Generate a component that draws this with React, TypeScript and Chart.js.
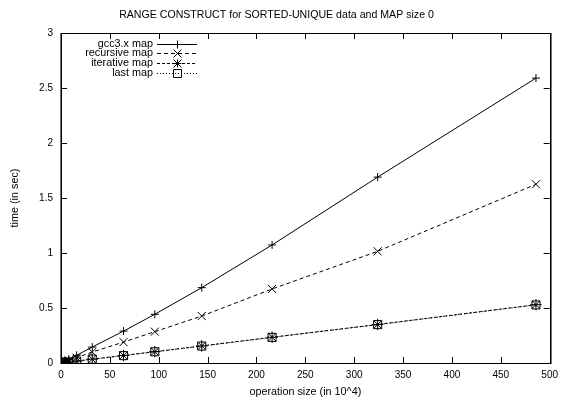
import React, { useEffect, useRef } from 'react';
import { Chart, registerables } from 'chart.js';

Chart.register(...registerables);

// Operation sizes (in 10^4) and measured construction times (in sec)
const operationSizes = [1, 2, 4, 8, 16, 32, 64, 96, 144, 216, 324, 486];
const gccTimes = [0.004, 0.008, 0.017, 0.035, 0.07, 0.145, 0.29, 0.443, 0.685, 1.073, 1.69, 2.59];
const recursiveTimes = [0.003, 0.006, 0.012, 0.024, 0.048, 0.1, 0.19, 0.285, 0.427, 0.673, 1.015, 1.625];
const iterativeTimes = [0.001, 0.002, 0.0045, 0.009, 0.017, 0.035, 0.068, 0.103, 0.155, 0.234, 0.35, 0.53];
const lastTimes = [0.001, 0.002, 0.0045, 0.009, 0.017, 0.035, 0.067, 0.102, 0.154, 0.233, 0.349, 0.528];

const seriesLabels = ['gcc3.x map', 'recursive map', 'iterative map', 'last map'];
const seriesValues = [gccTimes, recursiveTimes, iterativeTimes, lastTimes];
const seriesDashes: number[][] = [[], [4, 3], [3, 2], [1, 2]];
const seriesMarkers = ['cross', 'crossRot', 'star', 'rect'];

const xTickValues = [0, 50, 100, 150, 200, 250, 300, 350, 400, 450, 500];
const yTickValues = [0, 0.5, 1, 1.5, 2, 2.5, 3];

const FONT = '"Liberation Sans", Arial, Helvetica, sans-serif';
const INK = '#000000';
const TEXT_SIZE = 10.8;

function drawMarker(ctx: CanvasRenderingContext2D, style: string, x: number, y: number) {
  ctx.beginPath();
  if (style === 'cross' || style === 'star') {
    ctx.moveTo(x - 4, y); ctx.lineTo(x + 4, y);
    ctx.moveTo(x, y - 4); ctx.lineTo(x, y + 4);
  }
  if (style === 'crossRot' || style === 'star') {
    ctx.moveTo(x - 4, y - 4); ctx.lineTo(x + 4, y + 4);
    ctx.moveTo(x + 4, y - 4); ctx.lineTo(x - 4, y + 4);
  }
  if (style === 'rect') {
    ctx.rect(x - 4, y - 4, 8, 8);
  }
  ctx.stroke();
}

// Frame with inward ticks on all four sides, plus an in-plot key
const framePlugin = {
  id: 'frameAndKey',
  afterDraw(chart: any) {
    const { ctx, chartArea } = chart;
    const { left, right, top, bottom } = chartArea;
    const xs = chart.scales.x;
    const ys = chart.scales.y;
    ctx.save();
    ctx.strokeStyle = INK;
    ctx.lineWidth = 1;
    ctx.setLineDash([]);
    ctx.strokeRect(Math.round(left) + 0.5, Math.round(top) + 0.5, Math.round(right - left), Math.round(bottom - top));
    ctx.strokeStyle = 'rgba(0,0,0,0.55)';
    ctx.beginPath();
    ctx.moveTo(Math.round(left) - 0.5, top); ctx.lineTo(Math.round(left) - 0.5, bottom + 1);
    ctx.moveTo(Math.round(right) + 1.5, top); ctx.lineTo(Math.round(right) + 1.5, bottom + 1);
    ctx.stroke();
    ctx.strokeStyle = INK;
    const tl = 6;
    ctx.beginPath();
    xTickValues.forEach((v) => {
      const px = Math.round(xs.getPixelForValue(v)) + 0.5;
      ctx.moveTo(px, bottom); ctx.lineTo(px, bottom - tl);
      ctx.moveTo(px, top); ctx.lineTo(px, top + tl);
    });
    yTickValues.forEach((v) => {
      const py = Math.round(ys.getPixelForValue(v)) + 0.5;
      ctx.moveTo(left, py); ctx.lineTo(left + tl, py);
      ctx.moveTo(right, py); ctx.lineTo(right - tl, py);
    });
    ctx.stroke();

    // key
    ctx.font = `${TEXT_SIZE}px ${FONT}`;
    ctx.fillStyle = INK;
    ctx.textAlign = 'right';
    ctx.textBaseline = 'middle';
    seriesLabels.forEach((label, i) => {
      const cy = Math.round(top + 10.5 + i * 9.8) + 0.5;
      ctx.fillText(label, left + 92, cy);
      ctx.setLineDash(seriesDashes[i]);
      ctx.beginPath();
      ctx.moveTo(left + 96, cy);
      ctx.lineTo(left + 136, cy);
      ctx.stroke();
      ctx.setLineDash([]);
      drawMarker(ctx, seriesMarkers[i], left + 116.5, cy);
    });
    ctx.restore();
  },
};

export default function App() {
  const canvasRef = useRef<HTMLCanvasElement | null>(null);

  useEffect(() => {
    const canvas = canvasRef.current;
    if (!canvas) return;
    const datasets = seriesLabels.map((label, i) => ({
      label,
      data: operationSizes.map((x, k) => ({ x, y: seriesValues[i][k] })),
      borderColor: INK,
      backgroundColor: 'rgba(0,0,0,0)',
      borderWidth: 1,
      borderDash: seriesDashes[i],
      pointStyle: seriesMarkers[i] as any,
      pointRadius: seriesMarkers[i] === 'cross' ? 4 : 5.7,
      pointBorderColor: INK,
      pointBackgroundColor: 'rgba(0,0,0,0)',
      pointBorderWidth: 1,
      tension: 0,
      fill: false,
    }));

    const chart = new Chart(canvas, {
      type: 'line',
      data: { datasets },
      options: {
        animation: false,
        responsive: false,
        devicePixelRatio: 1,
        layout: { padding: { left: 0, right: 11, top: 0, bottom: 0 } },
        plugins: {
          legend: { display: false },
          tooltip: { enabled: false },
          title: {
            display: true,
            text: 'RANGE CONSTRUCT for SORTED-UNIQUE data and MAP size 0',
            color: INK,
            font: { family: FONT, size: 10.6, weight: 'normal', lineHeight: 1.2 },
            padding: { top: 9, bottom: 11.3 },
          },
        },
        scales: {
          x: {
            type: 'linear',
            min: 0,
            max: 500,
            grid: { display: false, drawTicks: false },
            border: { display: false },
            afterFit: (scale: any) => { scale.height = 34; },
            afterBuildTicks: (scale: any) => { scale.ticks = xTickValues.map((value) => ({ value })); },
            ticks: {
              color: INK,
              font: { family: FONT, size: 10 },
              padding: 6,
              maxRotation: 0,
              autoSkip: false,
              callback: (v: any) => String(v),
            },
            title: {
              display: true,
              text: 'operation size (in 10^4)',
              color: INK,
              font: { family: FONT, size: TEXT_SIZE, lineHeight: 1 },
              padding: { top: 0, bottom: 0 },
            },
          },
          y: {
            type: 'linear',
            min: 0,
            max: 3,
            grid: { display: false, drawTicks: false },
            border: { display: false },
            afterFit: (scale: any) => { scale.width = 61; },
            afterBuildTicks: (scale: any) => { scale.ticks = yTickValues.map((value) => ({ value })); },
            ticks: {
              color: INK,
              font: { family: FONT, size: 10 },
              padding: 8,
              autoSkip: false,
              callback: (v: any) => String(v),
            },
            title: {
              display: true,
              text: 'time (in sec)',
              color: INK,
              font: { family: FONT, size: TEXT_SIZE, lineHeight: 1.2 },
              padding: { top: 8.5, bottom: 0 },
            },
          },
        },
      },
      plugins: [framePlugin],
    });
    return () => chart.destroy();
  }, []);

  return (
    <div style={{ position: 'absolute', left: 0, top: 0, width: 564, height: 397, background: '#ffffff' }}>
      <canvas ref={canvasRef} width={564} height={397} style={{ width: 564, height: 397, display: 'block' }} />
    </div>
  );
}
